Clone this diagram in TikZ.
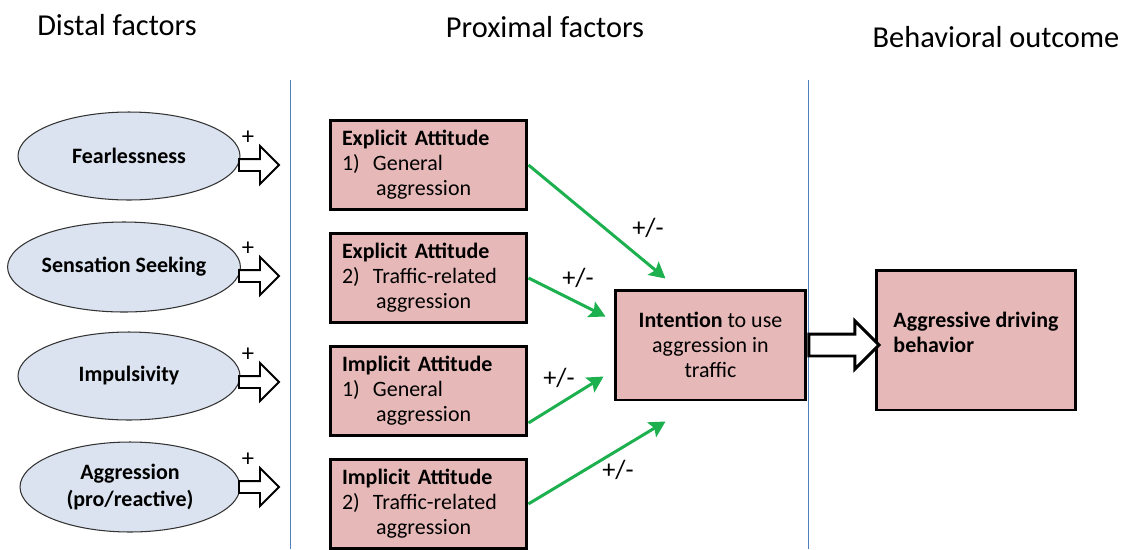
\documentclass[tikz,border=0pt]{standalone}
\usepackage{fontspec}
\setmainfont{Carlito}
\usepackage{tikz}
\usetikzlibrary{calc}
\usetikzlibrary{positioning}
\usetikzlibrary{arrows.meta}
\usetikzlibrary{shapes}
\definecolor{pastelPink}{HTML}{E6B9B8}
\definecolor{pastelSky}{HTML}{DBE3F0}
\definecolor{lineBlue}{HTML}{4F81BD}
\definecolor{arrowGreen}{HTML}{1DB04E}
\tikzset{every picture/.style={semithick, >=Stealth}}
\tikzstyle{head}=[font=\fontsize{17.3}{20}\selectfont]
\tikzstyle{factor}=[draw=black!80,fill=pastelSky,ellipse,inner sep=0pt,align=center,font=\fontsize{12.5}{15}\selectfont\bfseries]
\tikzstyle{block}=[draw,line width=1.7pt,fill=pastelPink,font=\fontsize{12.5}{14.2}\selectfont]
\tikzstyle{attitude}=[block,minimum height=1.78cm,text width=3.46cm,inner xsep=0.24cm,align=left]
\tikzstyle{push}=[single arrow,draw,line width=1.1pt,fill=white,inner xsep=0pt,inner ysep=0.1cm,single arrow head extend=0.26cm,minimum height=0.8cm,anchor=tail]
\tikzstyle{effect}=[->,draw=arrowGreen,line width=1.7pt,>={Stealth[length=0.32cm,width=0.34cm,inset=0.06cm]}]
\tikzstyle{sign}=[font=\fontsize{14}{16}\selectfont,inner sep=0pt]
\tikzstyle{signb}=[font=\fontsize{15}{17}\selectfont,inner sep=0pt]
\newcommand{\attitem}[3]{#1\hspace{0.6em}#2\\\hspace*{1.55em}#3}
\begin{document}
\begin{tikzpicture}[x=0.02cm,y=-0.02cm]
        \useasboundingbox (0,0) rectangle (1127,549);
        % column headings and dividers
        \node [head] (distal) at (117,25) {Distal factors};
        \node [head] (proximal) at (545,27) {Proximal factors};
        \node [head] (outcome) at (996,37) {Behavioral outcome};
        \draw [lineBlue,thin] (290,80) -- (290,549);
        \draw [lineBlue,thin] (808,80) -- (808,549);
        % distal factors
        \node [factor,minimum width=4.44cm,minimum height=1.76cm] (fear) at (129,156) {Fearlessness};
        \node [factor,minimum width=4.64cm,minimum height=1.8cm] (seek) at (124,267) {Sensation Seeking};
        \node [factor,minimum width=4.44cm,minimum height=1.76cm] (impuls) at (129,376) {Impulsivity};
        \node [factor,minimum width=4.4cm,minimum height=1.8cm] (aggr) at (130,487) {Aggression\\(pro/reactive)};
        \foreach \a/\y in {a1/165,a2/276,a3/382,a4/487} {
                \node [push] (\a) at (238,\y) {};
                \node [sign] (plus\a) at ($(\a.tail)+(10,-27)$) {+};
        }
        % proximal factors
        \node [attitude] (exp1) at (428.5,165) {\textbf{Explicit Attitude}\\\attitem{1)}{General}{aggression}};
        \node [attitude,below=0.42cm of exp1] (exp2) {\textbf{Explicit Attitude}\\\attitem{2)}{Traffic-related}{aggression}};
        \node [attitude,below=0.42cm of exp2] (imp1) {\textbf{Implicit Attitude}\\\attitem{1)}{General}{aggression}};
        \node [attitude,below=0.42cm of imp1] (imp2) {\textbf{Implicit Attitude}\\\attitem{2)}{Traffic-related}{aggression}};
        \node [block,minimum width=3.82cm,minimum height=2.2cm,align=center] (intent) at (710.5,345) {\textbf{Intention} to use\\aggression in\\traffic};
        \coordinate (t1) at ($(intent.north west)+(52,-10)$);
        \coordinate (t2) at ($(intent.north west)+(-8,28)$);
        \coordinate (t3) at ($(intent.north west)+(-10,88)$);
        \coordinate (t4) at ($(intent.south west)+(52,20)$);
        \draw [effect] (exp1.east) -- (t1);
        \draw [effect] (exp2.east) -- (t2);
        \draw [effect] ($(imp1.east)+(0,32)$) -- (t3);
        \draw [effect] (imp2.east) -- (t4);
        \node [signb] (s1) at (648,228) {+/-};
        \node [signb] (s2) at (578,278) {+/-};
        \node [signb] (s3) at (559,378) {+/-};
        \node [signb] (s4) at (618,470) {+/-};
        % behavioral outcome
        \node [block,minimum width=4cm,minimum height=2.8cm,align=left,text depth=0.3cm,font=\fontsize{12.5}{14.2}\selectfont\bfseries] (drive) at (976,340) {Aggressive driving\\behavior};
        \node [push,line width=1.7pt,inner ysep=0.19cm,minimum height=1.4cm] (out) at (intent.east) {};
\end{tikzpicture}
\end{document}
